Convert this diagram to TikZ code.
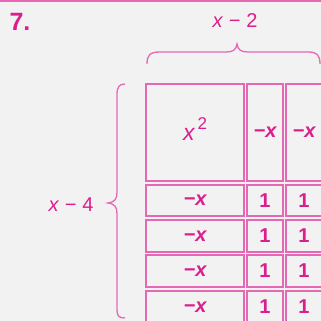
\documentclass[tikz,border=0pt]{standalone}
\usepackage{fontspec}
\setmainfont{Liberation Sans}
\definecolor{linepink}{RGB}{230,104,180}
\definecolor{textpink}{RGB}{218,30,140}
\definecolor{bg}{RGB}{242,242,242}
\begin{document}
\begin{tikzpicture}[x=1pt,y=-1pt,
  cell/.style={draw=linepink,line width=2pt,rectangle,inner sep=0pt,
    text=textpink,font=\fontsize{20}{20}\selectfont\bfseries},
  lbl/.style={text=textpink,inner sep=0pt,font=\fontsize{20}{20}\selectfont},
  bracepath/.style={draw=linepink,line width=1.3pt}]
\useasboundingbox (0,0) rectangle (321,321);
\fill[bg] (0,0) rectangle (321,321);
\clip (0,0) rectangle (321,321);
\draw[linepink,line width=2.5pt] (0,1) -- (321,1);
\node[text=textpink,inner sep=0pt,font=\fontsize{25}{25}\selectfont\bfseries] (num) at (20,22) {7.};
% top row
\node[cell,minimum width=98pt,minimum height=97pt] (a0) at (195,132.5) {};
\node[text=textpink,inner sep=0pt,font=\fontsize{23}{23}\selectfont] (sq) at (195,129) {\itshape x\hspace{3pt}\raisebox{0.5em}{\upshape\fontsize{17}{17}\selectfont 2}};
\node[cell,minimum width=36pt,minimum height=97pt] (b0) at (265,132.5) {\itshape −x};
\node[cell,minimum width=36pt,minimum height=97pt] (c0) at (304,132.5) {\itshape −x};
% rows
\foreach \r/\y/\h in {1/200.5/31,2/236/32,3/271/32,4/307/32}{
  \node[cell,minimum width=98pt,minimum height=\h pt] (a\r) at (195,\y) {\itshape −x};
  \node[cell,minimum width=36pt,minimum height=\h pt] (b\r) at (265,\y) {1};
  \node[cell,minimum width=36pt,minimum height=\h pt] (c\r) at (304,\y) {1};
}
% braces
\draw[bracepath] (147,64) .. controls (147,55) and (150,52) .. (160,52) -- (226,52)
  .. controls (233,52) and (236,50) .. (237,44)
  .. controls (238,50) and (241,52) .. (248,52) -- (308,52)
  .. controls (317,52) and (320,55) .. (320,64);
\node[lbl] (top) at (235,21) {\itshape x\hspace{6pt}−\hspace{6pt}\upshape 2};
\draw[bracepath] (125,84) .. controls (119,84) and (117,87) .. (117,95) -- (117,192)
  .. controls (117,199) and (115,202) .. (108,203)
  .. controls (115,204) and (117,207) .. (117,214) -- (117,310)
  .. controls (117,316) and (119,318) .. (125,318);
\node[lbl] (left) at (71,205) {\itshape x\hspace{6pt}−\hspace{6pt}\upshape 4};
\end{tikzpicture}
\end{document}
